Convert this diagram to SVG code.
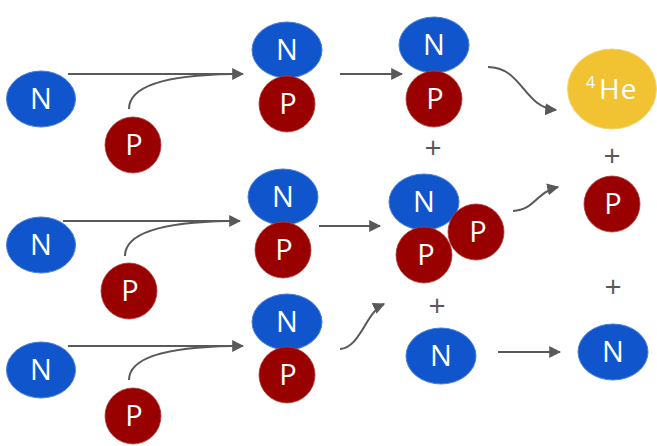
<svg xmlns="http://www.w3.org/2000/svg" width="657" height="446" viewBox="0 0 657 446">
<style>
.n{fill:#1155cc;stroke:#4a7fd8;stroke-width:1}
.p{fill:#990000;stroke:#b33a3a;stroke-width:0.8}
.he{fill:#f1c232;stroke:#f5d46a;stroke-width:1}
.t{fill:#ffffff;font-family:"Open Sans","DejaVu Sans",sans-serif;font-size:29px;text-anchor:middle}
.plus{fill:#595959;font-family:"Open Sans","DejaVu Sans",sans-serif;font-size:30px;text-anchor:middle}
.c{fill:none;stroke:#595959;stroke-width:2}
</style>
<defs>
<marker id="ah" viewBox="0 0 10 10" refX="9" refY="5" markerWidth="6" markerHeight="6" markerUnits="strokeWidth" orient="auto">
<path d="M0,0 L10,5 L0,10 z" fill="#595959"/>
</marker>
</defs>
<g id="connectors">
<path class="c" d="M68,74 L243,74" marker-end="url(#ah)"/>
<path class="c" d="M129,109 C129,85 170,75 232,74"/>
<path class="c" d="M63,221 L240,221" marker-end="url(#ah)"/>
<path class="c" d="M125,256 C125,232 166,222 229,221"/>
<path class="c" d="M68,346 L243,346" marker-end="url(#ah)"/>
<path class="c" d="M129,380 C129,356 170,347 232,346"/>
<path class="c" d="M340,74 L402,74" marker-end="url(#ah)"/>
<path class="c" d="M319,226 L380,226" marker-end="url(#ah)"/>
<path class="c" d="M340,349 C360,348 366,312 384,304" marker-end="url(#ah)"/>
<path class="c" d="M488,67 C522,67 524,108 556,110" marker-end="url(#ah)"/>
<path class="c" d="M513,211 C535,210 536,192 558,187" marker-end="url(#ah)"/>
<path class="c" d="M498,352 L560,352" marker-end="url(#ah)"/>
</g>
<g id="n1"><ellipse class="n" cx="41" cy="99" rx="34.5" ry="28"/><text class="t" x="41" y="109">N</text></g>
<g id="p1"><circle class="p" cx="133" cy="145" r="28"/><text class="t" x="134" y="155">P</text></g>
<g id="n2"><ellipse class="n" cx="41" cy="245" rx="34.5" ry="28"/><text class="t" x="41" y="255">N</text></g>
<g id="p2"><circle class="p" cx="129" cy="291" r="28"/><text class="t" x="130" y="301">P</text></g>
<g id="n3"><ellipse class="n" cx="41" cy="370" rx="34.5" ry="28"/><text class="t" x="41" y="380">N</text></g>
<g id="p3"><circle class="p" cx="133" cy="416" r="28"/><text class="t" x="134" y="426">P</text></g>
<g id="d1"><ellipse class="n" cx="287" cy="50" rx="35" ry="28"/><text class="t" x="287" y="60">N</text><circle class="p" cx="287" cy="104" r="28"/><text class="t" x="288" y="114">P</text></g>
<g id="d2"><ellipse class="n" cx="283" cy="197" rx="35" ry="28"/><text class="t" x="283" y="207">N</text><circle class="p" cx="283" cy="250" r="28"/><text class="t" x="284" y="260">P</text></g>
<g id="d3"><ellipse class="n" cx="287" cy="322" rx="35" ry="28"/><text class="t" x="287" y="332">N</text><circle class="p" cx="287" cy="375" r="28"/><text class="t" x="288" y="385">P</text></g>
<g id="d4"><ellipse class="n" cx="434" cy="45" rx="35" ry="28"/><text class="t" x="434" y="55">N</text><circle class="p" cx="434" cy="99" r="28"/><text class="t" x="435" y="109">P</text></g>
<g id="plus1"><text class="plus" x="433" y="158">+</text></g>
<g id="he3"><ellipse class="n" cx="424" cy="202" rx="35" ry="28"/><text class="t" x="424" y="212">N</text><circle class="p" cx="476" cy="232" r="28"/><text class="t" x="478" y="242">P</text><circle class="p" cx="424" cy="255" r="28"/><text class="t" x="426" y="265">P</text></g>
<g id="plus2"><text class="plus" x="437" y="316">+</text></g>
<g id="n4"><ellipse class="n" cx="441" cy="356" rx="35" ry="28"/><text class="t" x="441" y="366">N</text></g>
<g id="he4"><ellipse class="he" cx="612" cy="89" rx="44.5" ry="40"/><text fill="#ffffff" font-family="Open Sans, DejaVu Sans, sans-serif" font-size="16" x="586" y="88">4</text><text fill="#ffffff" font-family="Open Sans, DejaVu Sans, sans-serif" font-size="28" letter-spacing="1" x="599" y="99">He</text></g>
<g id="plus3"><text class="plus" x="612" y="166">+</text></g>
<g id="p4"><circle class="p" cx="612" cy="204" r="28"/><text class="t" x="613" y="214">P</text></g>
<g id="plus4"><text class="plus" x="613" y="297">+</text></g>
<g id="n5"><ellipse class="n" cx="613" cy="352" rx="35" ry="28"/><text class="t" x="613" y="362">N</text></g>
</svg>
